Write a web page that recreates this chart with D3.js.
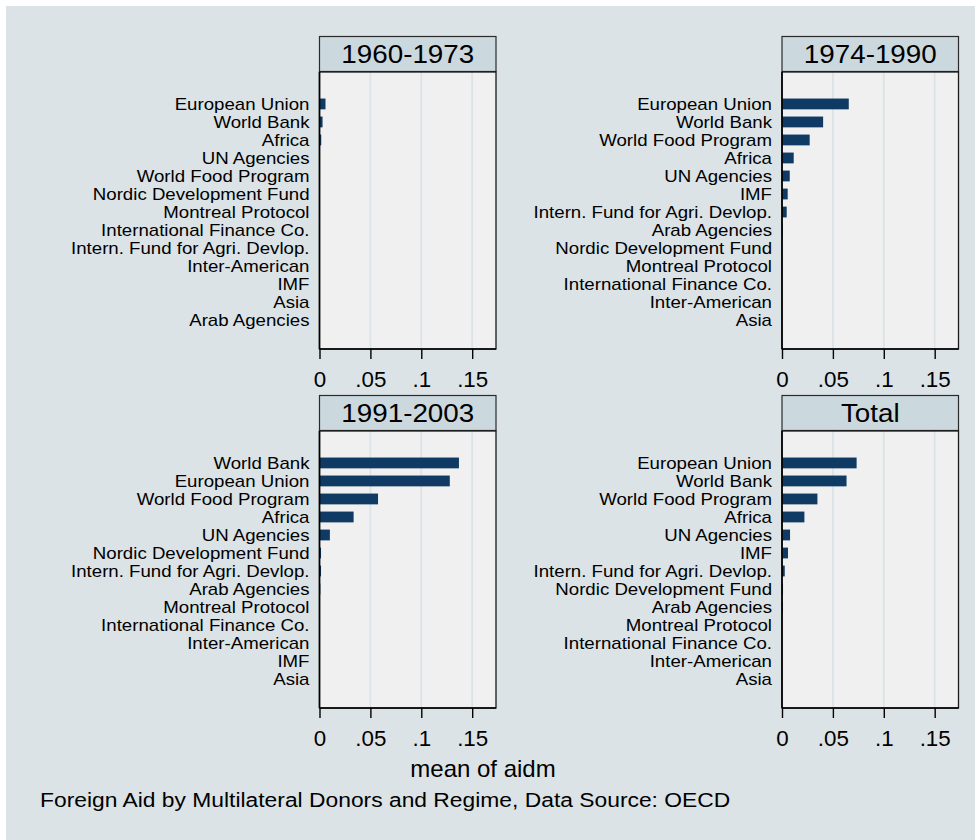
<!DOCTYPE html>
<html>
<head>
<meta charset="utf-8">
<script src="https://cdn.jsdelivr.net/npm/d3@7"></script>
<style>
  html, body { margin: 0; padding: 0; background: #ffffff; }
  svg { display: block; }
  text { font-family: "Liberation Sans", Arial, Helvetica, sans-serif; fill: #000; }
</style>
</head>
<body>
<svg id="chart" width="975" height="840"></svg>
<script>
// ---------------- DATA ----------------
const panelTitles = ["1960-1973", "1974-1990", "1991-2003", "Total"];

const cats1960 = ["European Union", "World Bank", "Africa", "UN Agencies", "World Food Program",
  "Nordic Development Fund", "Montreal Protocol", "International Finance Co.",
  "Intern. Fund for Agri. Devlop.", "Inter-American", "IMF", "Asia", "Arab Agencies"];
const vals1960 = [0.0059, 0.0030, 0.0017, 0.0001, 0, 0, 0, 0, 0, 0, 0, 0, 0];

const cats1974 = ["European Union", "World Bank", "World Food Program", "Africa", "UN Agencies",
  "IMF", "Intern. Fund for Agri. Devlop.", "Arab Agencies", "Nordic Development Fund",
  "Montreal Protocol", "International Finance Co.", "Inter-American", "Asia"];
const vals1974 = [0.0656, 0.0404, 0.0272, 0.0115, 0.0076, 0.0056, 0.0046, 0.0007, 0, 0, 0, 0, 0];

const cats1991 = ["World Bank", "European Union", "World Food Program", "Africa", "UN Agencies",
  "Nordic Development Fund", "Intern. Fund for Agri. Devlop.", "Arab Agencies",
  "Montreal Protocol", "International Finance Co.", "Inter-American", "IMF", "Asia"];
const vals1991 = [0.137, 0.128, 0.0575, 0.0335, 0.0102, 0.0015, 0.0015, 0.0008, 0, 0, 0, 0, 0];

const catsTotal = ["European Union", "World Bank", "World Food Program", "Africa", "UN Agencies",
  "IMF", "Intern. Fund for Agri. Devlop.", "Nordic Development Fund", "Arab Agencies",
  "Montreal Protocol", "International Finance Co.", "Inter-American", "Asia"];
const valsTotal = [0.0733, 0.0634, 0.0348, 0.0220, 0.0079, 0.0059, 0.0027, 0.0010, 0.0009, 0, 0, 0, 0];

const tickValues = [0, 0.05, 0.1, 0.15];
const tickLabels = ["0", ".05", ".1", ".15"];
const xMax = 0.1734;

const axisTitle = "mean of aidm";
const caption = "Foreign Aid by Multilateral Donors and Regime, Data Source: OECD";

// ---------------- LAYOUT / STYLE ----------------
const panels = [
  { title: panelTitles[0], cats: cats1960, vals: vals1960, x0: 319.5, y0: 72 },
  { title: panelTitles[1], cats: cats1974, vals: vals1974, x0: 782, y0: 72 },
  { title: panelTitles[2], cats: cats1991, vals: vals1991, x0: 319.5, y0: 431 },
  { title: panelTitles[3], cats: catsTotal, vals: valsTotal, x0: 782, y0: 431 }
];
const plotW = 176.5, plotH = 277, headerH = 35;

const svg = d3.select("#chart");
svg.append("rect").attr("x", 6).attr("y", 6).attr("width", 969).attr("height", 834)
  .attr("fill", "#dbe3e6");

panels.forEach(p => {
  const g = svg.append("g");
  const x = d3.scaleLinear().domain([0, xMax]).range([p.x0, p.x0 + plotW]);
  const y = d3.scaleBand().domain(p.cats).range([p.y0, p.y0 + plotH])
    .paddingInner(0.4).paddingOuter(1.39).align(0.53);

  // header box
  g.append("rect").attr("x", p.x0).attr("y", p.y0 - headerH - 0.5)
    .attr("width", plotW).attr("height", headerH)
    .attr("fill", "#cbd8de").attr("stroke", "#2b2b2b").attr("stroke-width", 1.2);
  g.append("text")
    .attr("transform", `translate(${p.x0 + plotW / 2},${p.y0 - 9.5}) scale(1.07,1)`)
    .attr("text-anchor", "middle").attr("font-size", 26)
    .text(p.title);

  // plot region
  g.append("rect").attr("x", p.x0).attr("y", p.y0)
    .attr("width", plotW).attr("height", plotH).attr("fill", "#f0f0f0");

  // grid lines
  g.selectAll(".grid").data(tickValues.filter(d => d > 0)).join("line")
    .attr("x1", d => x(d)).attr("x2", d => x(d))
    .attr("y1", p.y0).attr("y2", p.y0 + plotH)
    .attr("stroke", "#dbe3e6").attr("stroke-width", 1.8);

  // bars
  g.selectAll(".bar").data(p.cats.map((c, i) => ({ c, v: p.vals[i] }))).join("rect")
    .attr("x", x(0)).attr("y", d => y(d.c))
    .attr("width", d => x(d.v) - x(0)).attr("height", y.bandwidth())
    .attr("fill", "#0e3a63");

  // frame
  g.append("rect").attr("x", p.x0).attr("y", p.y0)
    .attr("width", plotW).attr("height", plotH)
    .attr("fill", "none").attr("stroke", "#1a1a1a").attr("stroke-width", 1.3);
  g.append("line").attr("x1", p.x0).attr("x2", p.x0).attr("y1", p.y0).attr("y2", p.y0 + plotH)
    .attr("stroke", "#000").attr("stroke-width", 1.6);
  g.append("line").attr("x1", p.x0).attr("x2", p.x0 + plotW).attr("y1", p.y0 + plotH).attr("y2", p.y0 + plotH)
    .attr("stroke", "#000").attr("stroke-width", 1.6);

  // x axis
  const ax = g.append("g").attr("transform", `translate(0,${p.y0 + plotH})`)
    .call(d3.axisBottom(x).tickValues(tickValues).tickFormat((d, i) => tickLabels[i]).tickSize(10));
  ax.select(".domain").remove();
  ax.selectAll(".tick line").attr("stroke", "#000").attr("stroke-width", 1.4);
  ax.selectAll(".tick text")
    .attr("y", 38.5).attr("dy", 0)
    .attr("transform", "scale(1.04,1)")
    .attr("font-size", 21.5).attr("font-family", null).attr("fill", "#000");
  ax.attr("font-family", null).attr("font-size", null);

  // category labels
  g.selectAll(".lab").data(p.cats).join("text")
    .attr("transform", d => `translate(${p.x0 - 10},${y(d) + y.bandwidth() / 2 + 6.3}) scale(1.085,1)`)
    .attr("text-anchor", "end").attr("font-size", 17.2)
    .text(d => d);
});

// axis title and caption
svg.append("text").attr("transform", "translate(483,777)")
  .attr("text-anchor", "middle").attr("font-size", 24).text(axisTitle);
svg.append("text").attr("transform", "translate(40,807) scale(1.12,1)")
  .attr("text-anchor", "start").attr("font-size", 20.4).text(caption);
</script>
</body>
</html>
